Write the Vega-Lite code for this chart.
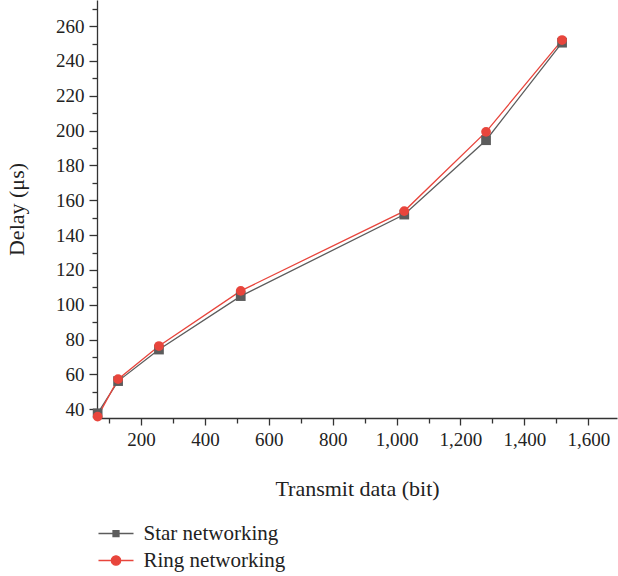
{
  "$schema": "https://vega.github.io/schema/vega-lite/v6.json",
  "width": 520,
  "height": 418,
  "autosize": "none",
  "padding": {"left": 97, "top": 0, "right": 1, "bottom": 158},
  "background": "white",
  "config": {
    "view": {"stroke": null},
    "font": "Liberation Serif",
    "axis": {
      "labelFont": "Liberation Serif",
      "titleFont": "Liberation Serif",
      "labelFontSize": 19,
      "titleFontSize": 22,
      "titleFontWeight": "normal",
      "labelColor": "#222222",
      "titleColor": "#222222",
      "domainColor": "#333333",
      "tickColor": "#333333",
      "domainWidth": 1.3,
      "tickWidth": 1.3,
      "grid": false
    },
    "legend": {"labelFont": "Liberation Serif", "labelFontSize": 21, "labelColor": "#222222"}
  },
  "data": {
    "values": [
      {"bits": 64, "delay": 37.7, "series": "Star networking"},
      {"bits": 128, "delay": 56.2, "series": "Star networking"},
      {"bits": 256, "delay": 74.3, "series": "Star networking"},
      {"bits": 512, "delay": 105.0, "series": "Star networking"},
      {"bits": 1024, "delay": 151.8, "series": "Star networking"},
      {"bits": 1280, "delay": 194.5, "series": "Star networking"},
      {"bits": 1518, "delay": 250.5, "series": "Star networking"},
      {"bits": 64, "delay": 35.8, "series": "Ring networking"},
      {"bits": 128, "delay": 57.3, "series": "Ring networking"},
      {"bits": 256, "delay": 76.3, "series": "Ring networking"},
      {"bits": 512, "delay": 108.0, "series": "Ring networking"},
      {"bits": 1024, "delay": 153.8, "series": "Ring networking"},
      {"bits": 1280, "delay": 199.3, "series": "Ring networking"},
      {"bits": 1518, "delay": 252.0, "series": "Ring networking"}
    ]
  },
  "resolve": {"axis": {"x": "independent", "y": "independent"}},
  "layer": [
    {
      "mark": {"type": "point", "filled": true, "strokeWidth": 1.3, "opacity": 0},
      "encoding": {
        "x": {
          "field": "bits", "type": "quantitative",
          "scale": {"domain": [62, 1690], "nice": false, "zero": false},
          "axis": {"orient": "bottom", "values": [100, 300, 500, 700, 900, 1100, 1300, 1500], "tickSize": 5, "labels": false, "domain": false, "title": null}
        },
        "y": {
          "field": "delay", "type": "quantitative",
          "scale": {"domain": [35, 275], "nice": false, "zero": false},
          "axis": {"orient": "left", "values": [50, 70, 90, 110, 130, 150, 170, 190, 210, 230, 250, 270], "tickSize": 5, "labels": false, "domain": false, "title": null}
        },
        "fill": {
          "field": "series", "type": "nominal",
          "scale": {"domain": ["Star networking", "Ring networking"], "range": ["#5c5c5c", "#e8453c"]},
          "legend": {"title": null, "orient": "none", "legendX": 8.5, "legendY": 523, "padding": 0, "symbolSize": 289, "symbolStrokeWidth": 1.3, "symbolOpacity": 1, "labelOffset": 17, "rowPadding": 5, "encode": {"symbols": {"update": {"opacity": {"value": 1}}}}}
        },
        "stroke": {
          "field": "series", "type": "nominal",
          "scale": {"domain": ["Star networking", "Ring networking"], "range": ["#5c5c5c", "#e8453c"]},
          "legend": {"title": null, "orient": "none", "legendX": 8.5, "legendY": 523, "padding": 0, "symbolSize": 289, "symbolStrokeWidth": 1.3, "symbolOpacity": 1, "labelOffset": 17, "rowPadding": 5, "encode": {"symbols": {"update": {"opacity": {"value": 1}}}}}
        },
        "shape": {
          "field": "series", "type": "nominal",
          "scale": {"domain": ["Star networking", "Ring networking"], "range": ["M-2.06,0H2.06M-0.35,-0.35H0.35V0.35H-0.35Z", "M-2.06,0H2.06M0.55,0A0.55,0.55,0,1,1,-0.55,0A0.55,0.55,0,1,1,0.55,0Z"]},
          "legend": {"title": null, "orient": "none", "legendX": 8.5, "legendY": 523, "padding": 0, "symbolSize": 289, "symbolStrokeWidth": 1.3, "symbolOpacity": 1, "labelOffset": 17, "rowPadding": 5, "encode": {"symbols": {"update": {"opacity": {"value": 1}}}}}
        }
      }
    },
    {
      "mark": {"type": "line", "strokeWidth": 1.3},
      "encoding": {
        "x": {
          "field": "bits", "type": "quantitative",
          "axis": {"orient": "bottom", "values": [200, 400, 600, 800, 1000, 1200, 1400, 1600], "format": ",d", "tickSize": 7, "labelPadding": 5, "title": "Transmit data (bit)", "titlePadding": 29}
        },
        "y": {
          "field": "delay", "type": "quantitative",
          "axis": {"orient": "left", "values": [40, 60, 80, 100, 120, 140, 160, 180, 200, 220, 240, 260], "tickSize": 8, "labelPadding": 5, "title": "Delay (μs)", "titlePadding": 27}
        },
        "color": {
          "field": "series", "type": "nominal",
          "scale": {"domain": ["Star networking", "Ring networking"], "range": ["#5c5c5c", "#e8453c"]},
          "legend": null
        },
        "order": {"field": "bits", "type": "quantitative"}
      }
    },
    {
      "transform": [{"filter": "datum.series === 'Star networking'"}],
      "mark": {"type": "point", "shape": "square", "filled": true, "size": 95, "opacity": 1},
      "encoding": {
        "x": {"field": "bits", "type": "quantitative", "axis": null},
        "y": {"field": "delay", "type": "quantitative", "axis": null},
        "color": {"field": "series", "type": "nominal", "legend": null}
      }
    },
    {
      "transform": [{"filter": "datum.series === 'Ring networking'"}],
      "mark": {"type": "point", "shape": "circle", "filled": true, "size": 95, "opacity": 1},
      "encoding": {
        "x": {"field": "bits", "type": "quantitative", "axis": null},
        "y": {"field": "delay", "type": "quantitative", "axis": null},
        "color": {"field": "series", "type": "nominal", "legend": null}
      }
    }
  ]
}
